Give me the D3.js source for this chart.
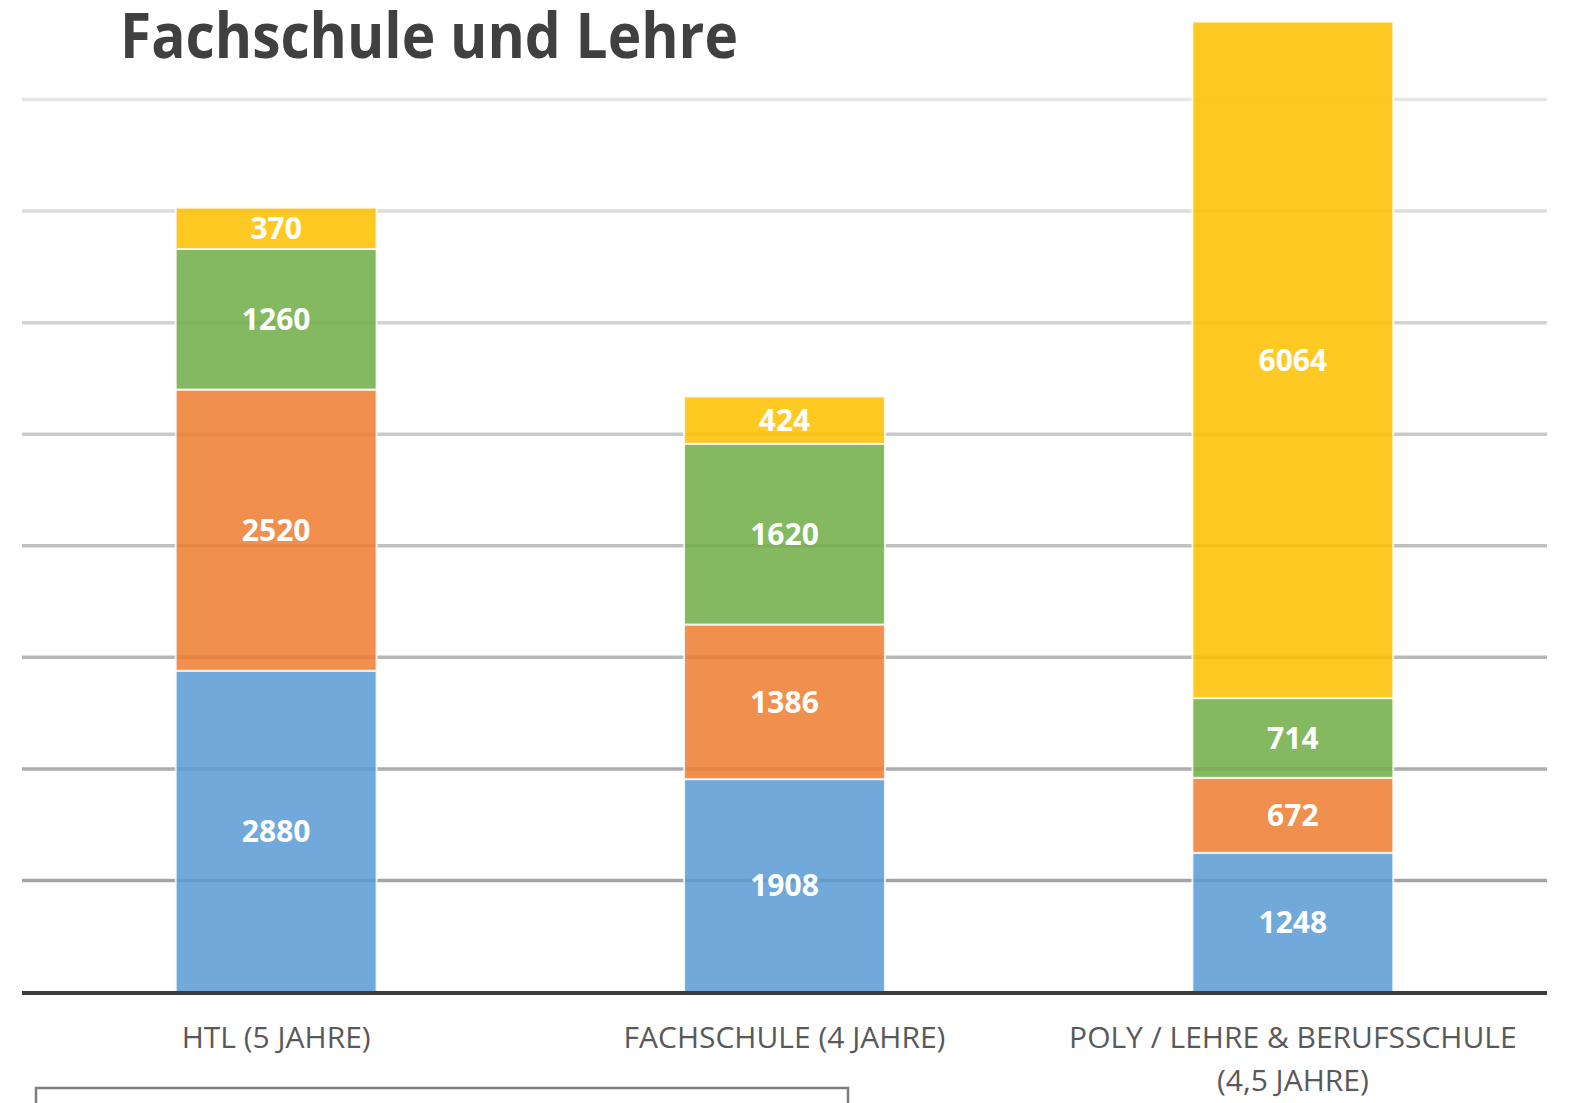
<!DOCTYPE html>
<html>
<head>
<meta charset="utf-8">
<script src="https://cdn.jsdelivr.net/npm/d3@7"></script>
<style>
  body { margin: 0; background: #fff; }
  svg { display: block; }
</style>
</head>
<body>
<script>
// Chart data
const title = "Fachschule und Lehre";
const categories = ["HTL (5 JAHRE)", "FACHSCHULE (4 JAHRE)", "POLY / LEHRE & BERUFSSCHULE\n(4,5 JAHRE)"];
const seriesKeys = ["blau", "orange", "gruen", "gelb"];
const blau = [2880, 1908, 1248];
const orange = [2520, 1386, 672];
const gruen = [1260, 1620, 714];
const gelb = [370, 424, 6064];
const yTicks = [1000, 2000, 3000, 4000, 5000, 6000, 7000, 8000];

const colors = { blau: "#5B9BD5", orange: "#ED7D31", gruen: "#70AD47", gelb: "#FFC000" };

const width = 1569, height = 1103;
const left = 22, right = 1547, baseline = 992, topY = 99.5;

const svg = d3.select("body").append("svg")
    .attr("width", width)
    .attr("height", height);

// Build rows for the stack
const values = { blau, orange, gruen, gelb };
const rows = categories.map((c, i) => {
    const r = { cat: c };
    seriesKeys.forEach(k => r[k] = values[k][i]);
    return r;
});
const stacked = d3.stack().keys(seriesKeys)(rows);

const x = d3.scaleBand()
    .domain(categories)
    .range([left, right])
    .paddingInner(0.605)
    .paddingOuter(0.3025);

const y = d3.scaleLinear()
    .domain([0, 8000])
    .range([baseline, topY]);

// Gridlines, lighter towards the top
const gridColor = d3.scaleLinear().domain([1000, 8000]).range(["#a4a4a4", "#e6e6e6"]);
svg.append("g")
    .selectAll("line")
    .data(yTicks)
    .join("line")
    .attr("x1", left)
    .attr("x2", right)
    .attr("y1", d => y(d))
    .attr("y2", d => y(d))
    .attr("stroke", d => gridColor(d))
    .attr("stroke-width", 3.5);

// Bars
const layers = svg.append("g")
    .selectAll("g")
    .data(stacked)
    .join("g")
    .attr("fill", d => colors[d.key]);

layers.selectAll("rect")
    .data(d => d)
    .join("rect")
    .attr("x", d => x(d.data.cat))
    .attr("width", x.bandwidth())
    .attr("y", d => y(d[1]))
    .attr("height", d => y(d[0]) - y(d[1]))
    .attr("fill-opacity", 0.86)
    .attr("stroke", "#fff")
    .attr("stroke-opacity", 0.8)
    .attr("stroke-width", 2);

// Value labels
layers.selectAll("text")
    .data(d => d)
    .join("text")
    .attr("x", d => x(d.data.cat) + x.bandwidth() / 2)
    .attr("y", d => (y(d[0]) + y(d[1])) / 2)
    .attr("dy", "0.36em")
    .attr("text-anchor", "middle")
    .attr("fill", "#fff")
    .attr("font-family", "'Open Sans', sans-serif")
    .attr("font-weight", "bold")
    .attr("font-size", 30)
    .text(d => d[1] - d[0]);

// Baseline
svg.append("line")
    .attr("x1", left)
    .attr("x2", right)
    .attr("y1", baseline + 1)
    .attr("y2", baseline + 1)
    .attr("stroke", "#3b3b3b")
    .attr("stroke-width", 4);

// Category labels
const catLabels = svg.append("g")
    .selectAll("text")
    .data(categories)
    .join("text")
    .attr("text-anchor", "middle")
    .attr("fill", "#595959")
    .attr("font-family", "'Open Sans', sans-serif")
    .attr("font-size", 30)
    .attr("transform", d => `translate(${x(d) + x.bandwidth() / 2},1048)`);

catLabels.selectAll("tspan")
    .data(d => d.split("\n"))
    .join("tspan")
    .attr("x", 0)
    .attr("dy", (d, i) => i === 0 ? 0 : 43)
    .text(d => d);

// Title
svg.append("text")
    .attr("x", 120)
    .attr("y", 58)
    .attr("fill", "#404040")
    .attr("font-family", "'Open Sans', sans-serif")
    .attr("font-weight", "bold")
    .attr("font-size", 62)
    .attr("textLength", 618)
    .attr("lengthAdjust", "spacingAndGlyphs")
    .text(title);

// Legend box (cut off at the bottom)
svg.append("rect")
    .attr("x", 36)
    .attr("y", 1088)
    .attr("width", 812)
    .attr("height", 60)
    .attr("fill", "none")
    .attr("stroke", "#7f7f7f")
    .attr("stroke-width", 2.5);
</script>
</body>
</html>
